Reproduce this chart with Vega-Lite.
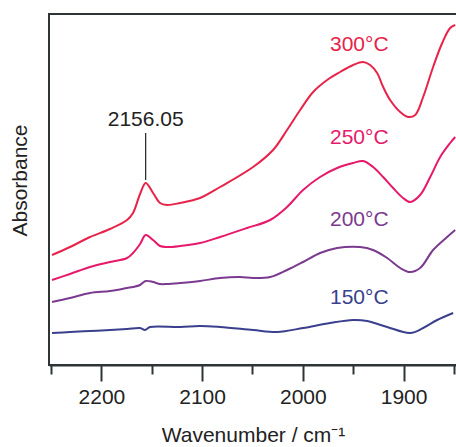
{
  "$schema": "https://vega.github.io/schema/vega-lite/v6.json",
  "width": 408,
  "height": 351,
  "autosize": {"type": "none"},
  "padding": {"left": 49, "top": 14, "right": 0, "bottom": 82},
  "background": "white",
  "config": {
    "view": {"stroke": "#2f3436", "strokeWidth": 2},
    "font": "Liberation Sans"
  },
  "datasets": {
    "spectra": [
      {"wn": 2249.0, "a": 110, "series": "300°C"}, {"wn": 2231.1, "a": 118, "series": "300°C"}, {"wn": 2211.3, "a": 128, "series": "300°C"}, {"wn": 2191.4, "a": 136, "series": "300°C"}, {"wn": 2174.5, "a": 145, "series": "300°C"}, {"wn": 2168.6, "a": 152, "series": "300°C"}, {"wn": 2161.6, "a": 171, "series": "300°C"}, {"wn": 2156.0, "a": 182, "series": "300°C"}, {"wn": 2148.7, "a": 172, "series": "300°C"}, {"wn": 2141.8, "a": 162, "series": "300°C"}, {"wn": 2134.8, "a": 160, "series": "300°C"}, {"wn": 2121.9, "a": 162, "series": "300°C"}, {"wn": 2102.1, "a": 167, "series": "300°C"}, {"wn": 2082.2, "a": 178, "series": "300°C"}, {"wn": 2049.4, "a": 198, "series": "300°C"}, {"wn": 2029.6, "a": 215, "series": "300°C"}, {"wn": 2015.7, "a": 235, "series": "300°C"}, {"wn": 2002.7, "a": 255, "series": "300°C"}, {"wn": 1989.8, "a": 273, "series": "300°C"}, {"wn": 1975.9, "a": 285, "series": "300°C"}, {"wn": 1963.0, "a": 293, "series": "300°C"}, {"wn": 1950.1, "a": 300, "series": "300°C"}, {"wn": 1940.2, "a": 303, "series": "300°C"}, {"wn": 1933.2, "a": 300, "series": "300°C"}, {"wn": 1926.3, "a": 292, "series": "300°C"}, {"wn": 1920.3, "a": 278, "series": "300°C"}, {"wn": 1913.4, "a": 265, "series": "300°C"}, {"wn": 1903.4, "a": 253, "series": "300°C"}, {"wn": 1895.5, "a": 248, "series": "300°C"}, {"wn": 1888.5, "a": 250, "series": "300°C"}, {"wn": 1880.6, "a": 268, "series": "300°C"}, {"wn": 1870.7, "a": 298, "series": "300°C"}, {"wn": 1861.7, "a": 322, "series": "300°C"}, {"wn": 1853.8, "a": 337, "series": "300°C"}, {"wn": 1848.8, "a": 340, "series": "300°C"},
      {"wn": 2249.0, "a": 85, "series": "250°C"}, {"wn": 2231.1, "a": 91, "series": "250°C"}, {"wn": 2211.3, "a": 98, "series": "250°C"}, {"wn": 2191.4, "a": 103, "series": "250°C"}, {"wn": 2174.5, "a": 107, "series": "250°C"}, {"wn": 2168.6, "a": 112, "series": "250°C"}, {"wn": 2161.6, "a": 121, "series": "250°C"}, {"wn": 2156.0, "a": 130, "series": "250°C"}, {"wn": 2148.7, "a": 125, "series": "250°C"}, {"wn": 2141.8, "a": 119, "series": "250°C"}, {"wn": 2134.8, "a": 118, "series": "250°C"}, {"wn": 2121.9, "a": 119, "series": "250°C"}, {"wn": 2102.1, "a": 122, "series": "250°C"}, {"wn": 2082.2, "a": 128, "series": "250°C"}, {"wn": 2055.4, "a": 137, "series": "250°C"}, {"wn": 2032.5, "a": 145, "series": "250°C"}, {"wn": 2015.7, "a": 158, "series": "250°C"}, {"wn": 1999.8, "a": 175, "series": "250°C"}, {"wn": 1982.9, "a": 188, "series": "250°C"}, {"wn": 1966.0, "a": 197, "series": "250°C"}, {"wn": 1950.1, "a": 202, "series": "250°C"}, {"wn": 1940.2, "a": 204, "series": "250°C"}, {"wn": 1930.3, "a": 198, "series": "250°C"}, {"wn": 1920.3, "a": 188, "series": "250°C"}, {"wn": 1910.4, "a": 177, "series": "250°C"}, {"wn": 1900.5, "a": 167, "series": "250°C"}, {"wn": 1893.5, "a": 163, "series": "250°C"}, {"wn": 1883.6, "a": 170, "series": "250°C"}, {"wn": 1873.6, "a": 188, "series": "250°C"}, {"wn": 1863.7, "a": 208, "series": "250°C"}, {"wn": 1853.8, "a": 222, "series": "250°C"}, {"wn": 1848.8, "a": 228, "series": "250°C"},
      {"wn": 2249.0, "a": 63, "series": "200°C"}, {"wn": 2231.1, "a": 67, "series": "200°C"}, {"wn": 2211.3, "a": 72, "series": "200°C"}, {"wn": 2191.4, "a": 74, "series": "200°C"}, {"wn": 2174.5, "a": 77, "series": "200°C"}, {"wn": 2168.6, "a": 78, "series": "200°C"}, {"wn": 2161.6, "a": 80, "series": "200°C"}, {"wn": 2156.0, "a": 84, "series": "200°C"}, {"wn": 2148.7, "a": 83, "series": "200°C"}, {"wn": 2141.8, "a": 81, "series": "200°C"}, {"wn": 2134.8, "a": 81, "series": "200°C"}, {"wn": 2121.9, "a": 82, "series": "200°C"}, {"wn": 2102.1, "a": 84, "series": "200°C"}, {"wn": 2082.2, "a": 87, "series": "200°C"}, {"wn": 2062.3, "a": 88, "series": "200°C"}, {"wn": 2049.4, "a": 87, "series": "200°C"}, {"wn": 2032.5, "a": 88, "series": "200°C"}, {"wn": 2015.7, "a": 95, "series": "200°C"}, {"wn": 1999.8, "a": 103, "series": "200°C"}, {"wn": 1982.9, "a": 112, "series": "200°C"}, {"wn": 1966.0, "a": 117, "series": "200°C"}, {"wn": 1943.2, "a": 118, "series": "200°C"}, {"wn": 1930.3, "a": 115, "series": "200°C"}, {"wn": 1916.3, "a": 107, "series": "200°C"}, {"wn": 1903.4, "a": 97, "series": "200°C"}, {"wn": 1893.5, "a": 93, "series": "200°C"}, {"wn": 1883.6, "a": 97, "series": "200°C"}, {"wn": 1870.7, "a": 115, "series": "200°C"}, {"wn": 1856.8, "a": 128, "series": "200°C"}, {"wn": 1848.8, "a": 135, "series": "200°C"},
      {"wn": 2249.0, "a": 32, "series": "150°C"}, {"wn": 2231.1, "a": 33, "series": "150°C"}, {"wn": 2211.3, "a": 34, "series": "150°C"}, {"wn": 2191.4, "a": 35, "series": "150°C"}, {"wn": 2174.5, "a": 36, "series": "150°C"}, {"wn": 2161.6, "a": 37, "series": "150°C"}, {"wn": 2156.7, "a": 35, "series": "150°C"}, {"wn": 2151.7, "a": 38, "series": "150°C"}, {"wn": 2121.9, "a": 38, "series": "150°C"}, {"wn": 2102.1, "a": 39, "series": "150°C"}, {"wn": 2082.2, "a": 38, "series": "150°C"}, {"wn": 2049.4, "a": 35, "series": "150°C"}, {"wn": 2025.6, "a": 33, "series": "150°C"}, {"wn": 1999.8, "a": 37, "series": "150°C"}, {"wn": 1973.0, "a": 42, "series": "150°C"}, {"wn": 1950.1, "a": 45, "series": "150°C"}, {"wn": 1936.2, "a": 44, "series": "150°C"}, {"wn": 1916.3, "a": 38, "series": "150°C"}, {"wn": 1893.5, "a": 32, "series": "150°C"}, {"wn": 1880.6, "a": 37, "series": "150°C"}, {"wn": 1866.7, "a": 45, "series": "150°C"}, {"wn": 1850.8, "a": 52, "series": "150°C"}
    ],
    "labels": [
      {"wn": 1944, "a": 320, "series": "300°C"},
      {"wn": 1944, "a": 227, "series": "250°C"},
      {"wn": 1944, "a": 145, "series": "200°C"},
      {"wn": 1944, "a": 67, "series": "150°C"}
    ],
    "peak": [
      {"wn": 2156.05, "a": 185, "a2": 232, "text": "2156.05", "ta": 245}
    ]
  },
  "layer": [
    {
      "data": {"name": "spectra"},
      "mark": {"type": "line", "strokeWidth": 2, "interpolate": "catmull-rom"},
      "encoding": {
        "x": {
          "field": "wn", "type": "quantitative",
          "scale": {"domain": [1847, 2252], "reverse": true, "nice": false, "zero": false},
          "axis": {
            "title": "Wavenumber / cm⁻¹",
            "values": [2250, 2200, 2150, 2100, 2050, 2000, 1950, 1900, 1850],
            "labelExpr": "datum.value % 100 === 0 ? datum.value : ''",
            "tickSize": {"expr": "datum.value % 100 === 0 ? 16 : 9"},
            "tickWidth": 2, "tickColor": "#2f3436",
            "domainColor": "#2f3436", "domainWidth": 2,
            "labelFontSize": 21, "labelColor": "#222", "labelPadding": 5,
            "titleFontSize": 21, "titleColor": "#222", "titleFontWeight": "normal", "titlePadding": 17,
            "grid": false, "labelFlush": false
          }
        },
        "y": {
          "field": "a", "type": "quantitative",
          "scale": {"domain": [0, 351], "nice": false, "zero": false},
          "axis": {
            "title": "Absorbance", "labels": false, "ticks": false, "domain": false, "grid": false,
            "titleFontSize": 21, "titleColor": "#222", "titleFontWeight": "normal", "titlePadding": 19,
            "titleY": 166
          }
        },
        "color": {
          "field": "series", "type": "nominal",
          "scale": {"domain": ["300°C", "250°C", "200°C", "150°C"], "range": ["#e8234a", "#e6196b", "#7b3a90", "#3a3f8e"]},
          "legend": null
        }
      }
    },
    {
      "data": {"name": "labels"},
      "mark": {"type": "text", "fontSize": 21, "align": "center", "baseline": "middle"},
      "encoding": {
        "x": {"field": "wn", "type": "quantitative"},
        "y": {"field": "a", "type": "quantitative"},
        "text": {"field": "series"},
        "color": {"field": "series", "type": "nominal", "legend": null}
      }
    },
    {
      "data": {"name": "peak"},
      "mark": {"type": "rule", "color": "#222", "strokeWidth": 1.2},
      "encoding": {
        "x": {"field": "wn", "type": "quantitative"},
        "y": {"field": "a", "type": "quantitative"},
        "y2": {"field": "a2"}
      }
    },
    {
      "data": {"name": "peak"},
      "mark": {"type": "text", "fontSize": 21, "align": "center", "baseline": "middle", "color": "#222"},
      "encoding": {
        "x": {"field": "wn", "type": "quantitative"},
        "y": {"field": "ta", "type": "quantitative"},
        "text": {"field": "text"}
      }
    }
  ]
}
